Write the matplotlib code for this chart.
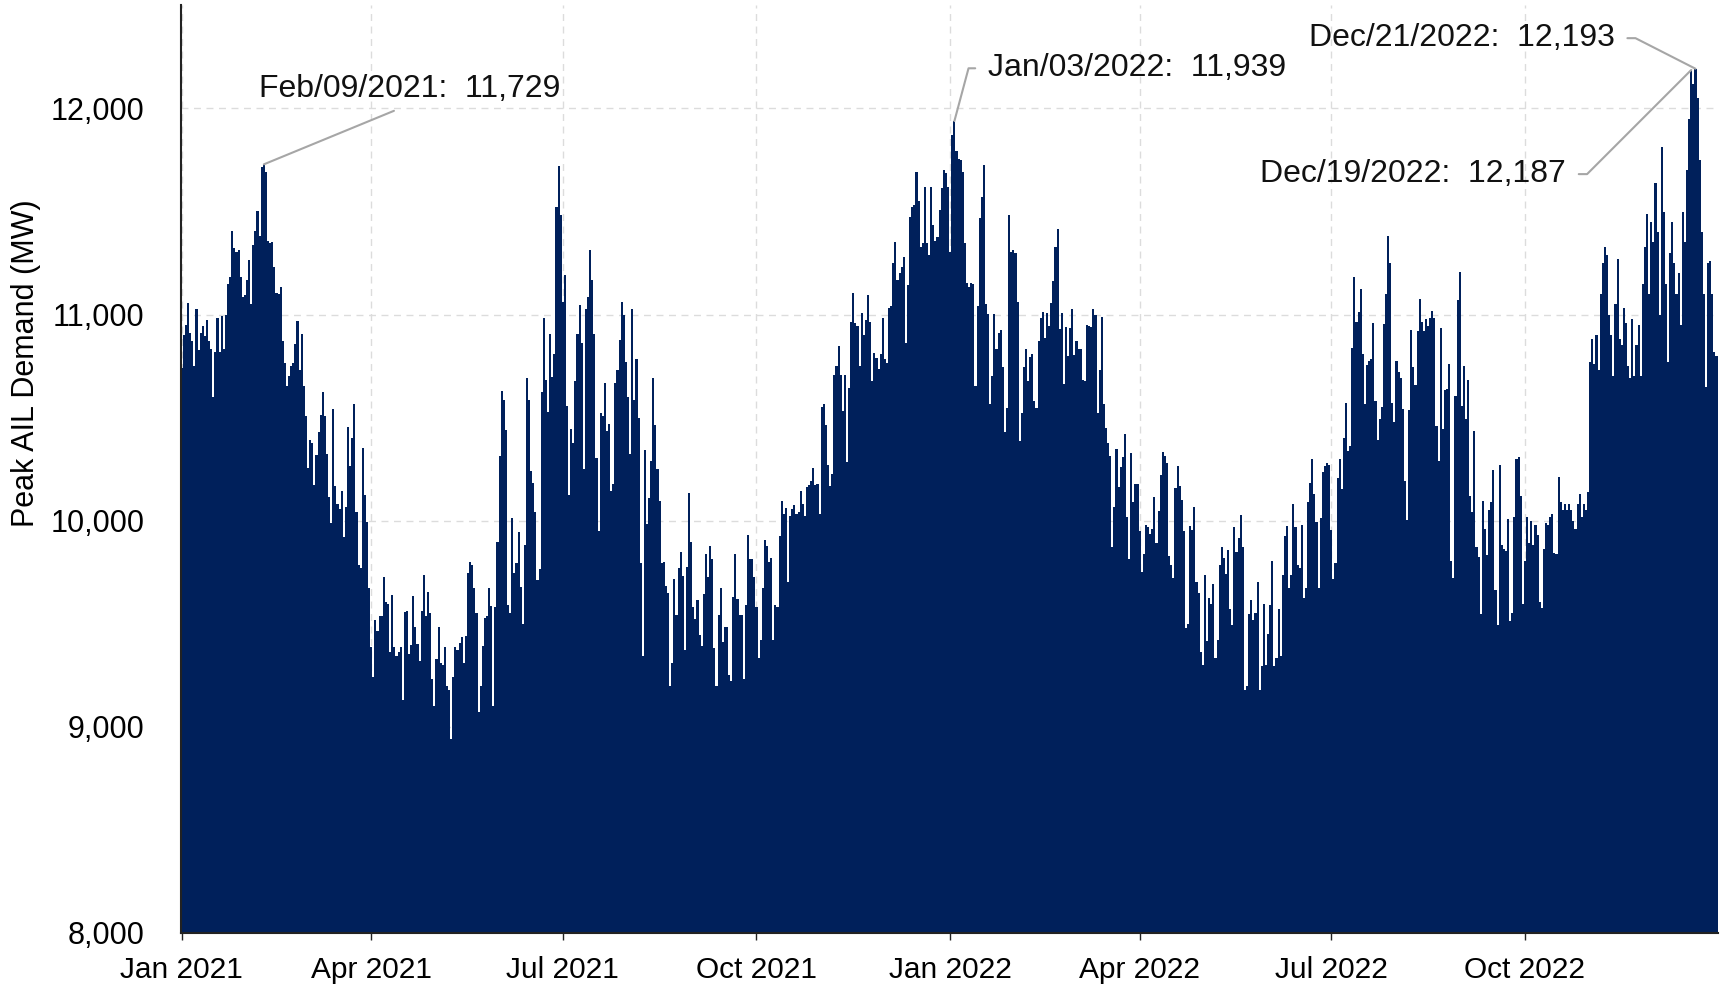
import matplotlib
matplotlib.use("Agg")
import matplotlib.pyplot as plt
import matplotlib.dates as mdates
import numpy as np
import pandas as pd

plt.rcParams['font.family'] = ['Liberation Sans', 'DejaVu Sans']

# daily peak AIL demand (MW)
jan21 = [10740, 10900, 10950, 11057, 10913, 10870, 10750, 11026, 10827, 10913, 10943, 10896, 10974, 10870, 10835, 10600,
         10820, 10983, 10820, 10995, 10835, 11000, 11150, 11180, 11404, 11324, 11303, 11311, 11182, 11087, 11095]
feb21 = [11168, 11265, 11052, 11338, 11404, 11502, 11381, 11715, 11729, 11690, 11355, 11347, 11350, 11230, 11104, 11099,
         11133, 10870, 10766, 10653, 10700, 10750, 10766, 10856, 10970, 10731, 10905, 10653]
mar21 = [10510, 10255, 10393, 10376, 10173, 10319, 10428, 10515, 10622, 10506, 10324, 10116, 9990, 10544, 10168, 10081,
         10055, 10145, 9920, 10064, 10454, 10264, 10402, 10567, 10042, 9787, 9770, 10354, 10125, 9995, 9675]
apr21 = [9389, 9240, 9520, 9465, 9537, 9537, 9728, 9606, 9598, 9364, 9641, 9389, 9345, 9364, 9389, 9130,
         9555, 9563, 9354, 9397, 9634, 9484, 9400, 9319, 9561, 9735, 9536, 9653, 9553, 9232]
may21 = [9100, 9328, 9484, 9311, 9302, 9389, 9200, 9180, 8940, 9241, 9389, 9371, 9406, 9435, 9311, 9441,
         9747, 9799, 9787, 9675, 9553, 9070, 9200, 9392, 9530, 9536, 9675, 9584, 9100, 9579, 9896]
jun21 = [10312, 10631, 10584, 10440, 9591, 9553, 10012, 9747, 9796, 9943, 9678, 9497, 9882, 10693, 10584, 10243,
         10185, 10042, 9712, 9764, 10624, 10983, 10683, 10527, 10908, 10697, 10809, 11520, 11720, 11485]
jul21 = [11061, 11191, 10558, 10125, 10445, 10376, 10679, 10905, 11047, 10861, 10250, 11026, 11087, 11312, 11168, 10908,
         10302, 9952, 10523, 10510, 10666, 10437, 10468, 10146, 10177, 10666, 10731, 10879, 11061, 11000, 10770]
aug21 = [10601, 10324, 11029, 10584, 10783, 10497, 9796, 9345, 10341, 9986, 10111, 10289, 10693, 10463, 10250, 10094,
         9796, 9800, 9683, 9648, 9200, 9311, 9717, 9540, 9770, 9850, 9733, 9372, 9773, 10136, 9895]
sep21 = [9579, 9524, 9613, 9445, 9391, 9642, 9836, 9727, 9879, 9812, 9381, 9200, 9540, 9672, 9411, 9484,
         9484, 9253, 9220, 9628, 9840, 9619, 9540, 9540, 9230, 9593, 9929, 9816, 9816, 9727]
oct21 = [9583, 9332, 9421, 9672, 9905, 9879, 9800, 9820, 9421, 9593, 9579, 9925, 10093, 10034, 10063, 9702,
         10024, 10057, 10077, 10034, 10043, 10142, 10079, 10024, 10162, 10172, 10192, 10255, 10172, 10180, 10034]
nov21 = [10551, 10567, 10464, 10271, 10168, 10227, 10705, 10749, 10848, 10709, 10531, 10705, 10287, 10646, 10962, 11107,
         10958, 10946, 10749, 11006, 10899, 10972, 11097, 10962, 10676, 10814, 10789, 10735, 10808, 10982]
dec21 = [10785, 10765, 11032, 11042, 11249, 11352, 11170, 11204, 11229, 11279, 10864, 11145, 11473, 11520, 11530, 11694,
         11552, 11328, 11348, 11619, 11348, 11289, 11619, 11433, 11358, 11377, 11506, 11615, 11702, 11688, 11619]
jan22 = [11303, 11870, 11939, 11792, 11757, 11750, 11693, 11347, 11151, 11133, 11151, 11150, 10653, 11043, 11468, 11572,
         11728, 11052, 11005, 10567, 10700, 11005, 10835, 10913, 10925, 10745, 10428, 10549, 11485, 11303, 11311]
feb22 = [11300, 11061, 10388, 10523, 10745, 10832, 10676, 10792, 10809, 10579, 10549, 10870, 10983, 11012, 10884, 11009,
         10943, 11057, 11161, 11329, 11416, 10931, 11009, 10662, 10939, 10800, 10936, 11029]
mar22 = [10804, 10873, 10835, 10832, 10683, 10679, 10948, 10943, 10940, 11029, 11000, 10520, 10731, 10986, 10567, 10451,
         10376, 10315, 9873, 10064, 10347, 10163, 10260, 10307, 10419, 10017, 9816, 10329, 10090, 10177, 10180]
apr22 = [9951, 9752, 9839, 9977, 9969, 9934, 9960, 10116, 9890, 10046, 10220, 10332, 10315, 10281, 9830, 9787,
         9723, 10159, 10263, 10168, 10099, 9948, 9480, 9497, 9972, 9955, 10064, 9700, 9648, 9364]
may22 = [9300, 9735, 9416, 9624, 9598, 9693, 9335, 9423, 9787, 9873, 9821, 9743, 9856, 9570, 9493, 9969,
         9847, 9917, 10029, 9873, 9180, 9200, 9545, 9615, 9520, 9553, 9700, 9180, 9293, 9598, 9302]
jun22 = [9449, 9589, 9804, 9293, 9335, 9570, 9345, 9735, 9925, 9972, 9675, 9735, 10081, 9969, 9787, 9770,
         9977, 9624, 9675, 10090, 10185, 10298, 10128, 9995, 9675, 10012, 10237, 10263, 10281, 10270]
jul22 = [9955, 9717, 9796, 10208, 10300, 10152, 10399, 10571, 10340, 10360, 10840, 11180, 10962, 11012, 11124, 10808,
         10567, 10755, 10775, 10785, 10957, 10583, 10389, 10492, 10551, 10953, 11101, 11381, 11249, 10571, 10478]
aug22 = [10775, 10721, 10690, 10543, 10192, 10004, 10538, 10927, 10745, 10656, 10919, 11077, 10962, 10919, 10978, 10943,
         10982, 11018, 10982, 10458, 10290, 10937, 10446, 10634, 10640, 10762, 9802, 9723, 10604, 11069, 11208]
sep22 = [10554, 10752, 10495, 10683, 10119, 10040, 10436, 9871, 9822, 9545, 10093, 9960, 9832, 10050, 10089, 10248,
         9663, 9495, 10271, 9881, 9861, 9851, 10010, 9515, 9554, 10020, 10297, 10307, 10119, 9594]
oct22 = [9802, 10020, 9891, 10000, 9881, 9980, 9931, 9604, 9574, 9861, 9990, 9980, 10020, 10030, 9842, 9840,
         10212, 10089, 10050, 10079, 10050, 10079, 10050, 10000, 9960, 10080, 10130, 10020, 10080, 10050, 10140]
nov22 = [10770, 10880, 10760, 10900, 10730, 11100, 11250, 11330, 11290, 11000, 10900, 10700, 11050, 11270, 10880, 10850,
         11030, 10960, 10750, 10690, 10980, 10700, 10850, 10950, 10700, 11150, 11330, 11490, 11100, 11450]
dec22 = [11350, 11640, 11400, 11000, 11814, 11500, 11150, 10770, 11300, 11450, 11250, 11100, 11200, 10950, 11500, 11350,
         11700, 11950, 12187, 12120, 12193, 12050, 11750, 11400, 11100, 10650, 11250, 11260, 11100, 10820, 10800]

months = [jan21, feb21, mar21, apr21, may21, jun21, jul21, aug21, sep21, oct21, nov21, dec21,
          jan22, feb22, mar22, apr22, may22, jun22, jul22, aug22, sep22, oct22, nov22, dec22]
demand = np.concatenate(months)
dates = pd.date_range('2021-01-01', '2022-12-31', freq='D')

# peaks that carry a label
note_dates = ['2021-02-09', '2022-01-03', '2022-12-21', '2022-12-19']

navy = '#00205B'
grey_line = '#a6a6a6'

fig = plt.figure(figsize=(17.21, 9.91), dpi=100)
ax = fig.add_axes([0.105, 0.0587, 0.893, 0.9358])

ax.bar(dates, demand, width=1.0, color=navy, linewidth=0, zorder=2)

ax.set_ylim(8000, 12500)
ax.set_xlim(dates[0] - pd.Timedelta(hours=12), dates[-1] + pd.Timedelta(hours=12))
ax.set_yticks([8000, 9000, 10000, 11000, 12000])
ax.yaxis.set_major_formatter(matplotlib.ticker.FuncFormatter(lambda v, p: f'{v:,.0f}'))
ax.xaxis.set_major_locator(mdates.MonthLocator(bymonth=[1, 4, 7, 10]))
ax.xaxis.set_major_formatter(mdates.DateFormatter('%b %Y'))

ax.grid(True, color='#dcdcdc', linestyle=(0, (5, 4)), linewidth=1.0, zorder=0)
ax.set_axisbelow(True)
for s in ['top', 'right']:
    ax.spines[s].set_visible(False)
for s in ['left', 'bottom']:
    ax.spines[s].set_color('#222222')
    ax.spines[s].set_linewidth(1.5)
    ax.spines[s].set_zorder(3)

ax.tick_params(axis='y', labelsize=22, length=0, pad=26)
ax.tick_params(axis='x', labelsize=21.5, length=5, width=1, color='#222222', pad=12)
ax.set_ylabel('Peak AIL Demand (MW)', fontsize=22)
ax.yaxis.set_label_coords(-0.091, 0.614)

# label layout: (text offset in points, ha, relpos, connection style)
note_style = {
    '2021-02-09': ((105, 54), 'center', (0.5, 0.0), 'arc3,rad=0'),
    '2022-01-03': ((24, 38), 'left', (0.0, 0.5), 'angle,angleA=0,angleB=75,rad=0'),
    '2022-12-21': ((-58, 22), 'right', (1.0, 0.5), 'angle,angleA=0,angleB=-27,rad=0'),
    '2022-12-19': ((-90, -75), 'right', (1.0, 0.5), 'angle,angleA=0,angleB=45,rad=0'),
}
for d in note_dates:
    ts = pd.Timestamp(d)
    v = demand[dates.get_loc(ts)]
    off, ha, rel, cs = note_style[d]
    ax.annotate(f"{ts:%b/%d/%Y}:  {v:,.0f}", xy=(ts, v), xytext=off, textcoords='offset points',
                ha=ha, va='center', fontsize=23, color='#111111',
                arrowprops=dict(arrowstyle='-', color=grey_line, lw=1.5, relpos=rel,
                                connectionstyle=cs, shrinkA=7, shrinkB=0),
                zorder=5, annotation_clip=False)

fig.savefig('out.png', dpi=100)
